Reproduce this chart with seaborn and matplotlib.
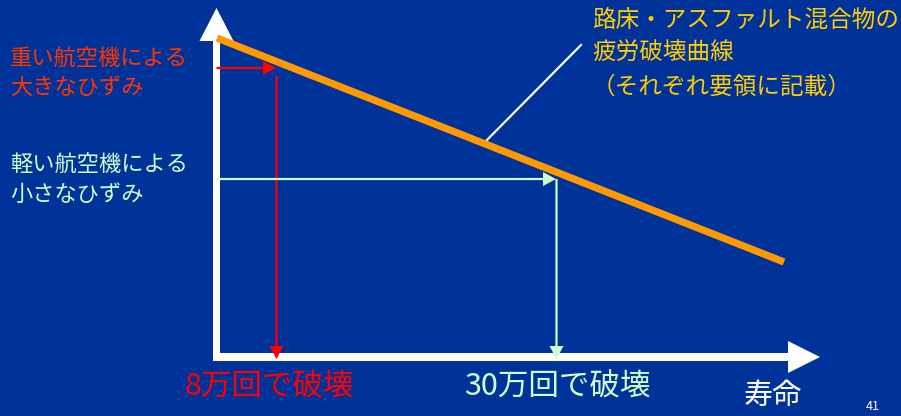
import matplotlib
matplotlib.use("Agg")
import matplotlib.pyplot as plt
import seaborn as sns
import pandas as pd

# ---------------- data (drawing units: x = 寿命, y = ひずみ) ----------------
curve_life = [0.5, 567.5]          # fatigue curve end points (life)
curve_strain = [318, 94]           # fatigue curve end points (strain)

strain_levels = [288, 177]         # heavy / light aircraft strain
arrow_tops = [280, 177]            # top of the vertical drop arrows
failure_life = [59.5, 339.5]       # life at failure for each strain
failure_labels = ["8万回で破壊", "30万回で破壊"]
failure_colors = ["#FF0000", "#CCFFCC"]

load_labels = [["重い航空機による", "大きなひずみ"],
               ["軽い航空機による", "小さなひずみ"]]
load_colors = ["#FF3300", "#CCFFCC"]

curve_label = ["路床・アスファルト混合物の", "疲労破壊曲線", "（それぞれ要領に記載）"]
leader_x = [267.5, 364.5]
leader_y = [213, 311]

x_axis_label = "寿命"
page_number = "41"

# ---------------- figure ----------------
BG = "#003399"
plt.rcParams["font.family"] = ["Noto Sans CJK JP", "DejaVu Sans"]

fig = plt.figure(figsize=(9.01, 4.16), dpi=100, facecolor=BG)
ax = fig.add_axes([0, 0, 1, 1])
ax.set_facecolor(BG)
ax.set_xlim(-216.5, 684.5)
ax.set_ylim(-60, 356)
ax.axis("off")

# axes as white arrows
ax.arrow(0, -4, 0, 352, width=7, head_width=34, head_length=33,
         length_includes_head=True, fc="white", ec="none", zorder=3)
ax.arrow(-3.5, -1, 607, 0, width=8, head_width=32, head_length=32,
         length_includes_head=True, fc="white", ec="none", zorder=3)

# fatigue curve
df = pd.DataFrame({"life": curve_life, "strain": curve_strain})
sns.lineplot(data=df, x="life", y="strain", ax=ax, color="#FF9900",
             linewidth=5.2, solid_capstyle="butt", zorder=5, legend=False)
ax.set_xlabel("")
ax.set_ylabel("")

# leader line to curve label
ax.plot(leader_x, leader_y, color="white", linewidth=1.6, zorder=4)

# strain -> life arrows
for s, top, L, c in zip(strain_levels, arrow_tops, failure_life, failure_colors):
    ax.arrow(0, s, L, 0, width=2.2, head_width=14, head_length=13,
             length_includes_head=True, fc=c, ec="none", zorder=4)
    ax.arrow(L + 0.5, top, 0, -top - 3, width=2.2, head_width=14, head_length=13,
             length_includes_head=True, fc=c, ec="none", zorder=4)

# left labels
load_y = [[298, 269], [192, 162]]
for lines, ys, c in zip(load_labels, load_y, load_colors):
    for t, y in zip(lines, ys):
        ax.text(-206.5, y, t, color=c, fontsize=16, va="center", ha="left")

# curve label
for t, y in zip(curve_label, [336, 303, 269]):
    ax.text(375.5, y, t, color="#FFCC00", fontsize=17, va="center", ha="left")

# failure labels
for t, x, c in zip(failure_labels, [-31.5, 247.5], failure_colors):
    ax.text(x, -31, t, color=c, fontsize=22, va="center", ha="left")

ax.text(527.5, -40, x_axis_label, color="white", fontsize=21, va="center", ha="left")
ax.text(649.5, -51, page_number, color="white", fontsize=9, va="center", ha="left")

fig.savefig("out.png", dpi=100, facecolor=BG)
